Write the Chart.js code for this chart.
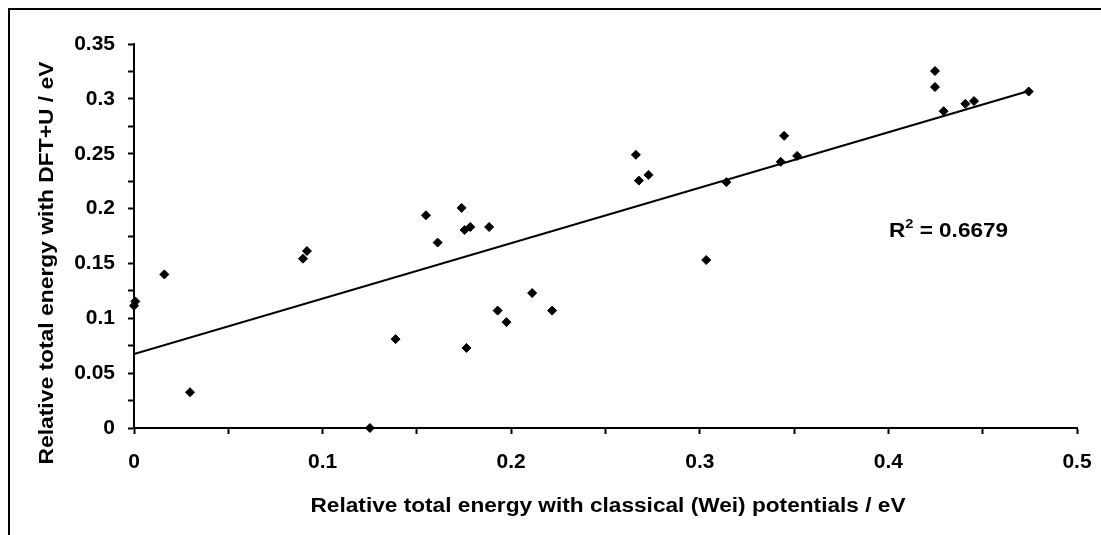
<!DOCTYPE html>
<html>
<head>
<meta charset="utf-8">
<title>DFT+U vs classical energies</title>
<script src="https://cdn.jsdelivr.net/npm/chart.js@4.4.1/dist/chart.umd.min.js"></script>
<style>
  html, body { margin: 0; padding: 0; background: #fff; }
  #wrap { width: 1101px; height: 535px; }
</style>
</head>
<body>
<div id="wrap"><canvas id="energy-scatter" width="1101" height="535"></canvas></div>
<script>
// relative total energy, classical (Wei) potentials / eV
var xWei = [0, 0.0007, 0.0161, 0.0297, 0.0896, 0.0917, 0.1251, 0.1387, 0.1548, 0.161,
            0.1737, 0.1753, 0.1783, 0.1883, 0.1763, 0.1928, 0.1975, 0.2111, 0.2217,
            0.2661, 0.2677, 0.2728, 0.3034, 0.3141, 0.3429, 0.3447, 0.3516,
            0.4247, 0.4247, 0.4293, 0.4408, 0.4454, 0.4744];
// relative total energy, DFT+U / eV
var yDftU = [0.1114, 0.1154, 0.140, 0.0326, 0.1543, 0.1613, 0.0, 0.081, 0.1939, 0.169,
             0.2006, 0.1805, 0.1832, 0.1832, 0.073, 0.107, 0.0965, 0.123, 0.107,
             0.249, 0.2255, 0.2307, 0.1531, 0.2241, 0.2426, 0.2663, 0.248,
             0.3254, 0.3108, 0.2888, 0.2955, 0.298, 0.3067];
var xRange = [0, 0.5];
var yRange = [0, 0.35];
var rSquared = "0.6679";

var xTitle = "Relative total energy with classical (Wei) potentials / eV";
var yTitle = "Relative total energy with DFT+U / eV";

var points = xWei.map(function (x, i) { return { x: x, y: yDftU[i] }; });

// least squares trendline
var n = xWei.length, mx = 0, my = 0;
for (var i = 0; i < n; i++) { mx += xWei[i]; my += yDftU[i]; }
mx /= n; my /= n;
var sxy = 0, sxx = 0;
for (var i = 0; i < n; i++) {
  sxy += (xWei[i] - mx) * (yDftU[i] - my);
  sxx += (xWei[i] - mx) * (xWei[i] - mx);
}
var slope = sxy / sxx;
var icept = my - slope * mx;
var xMax = Math.max.apply(null, xWei);
var trend = [{ x: 0, y: icept }, { x: xMax, y: icept + slope * xMax }];

var FONT = '"Liberation Sans", Arial, sans-serif';

function fitText(ctx, text, size, width) {
  ctx.font = "bold " + size + "px " + FONT;
  return width / ctx.measureText(text).width;
}

var decor = {
  id: "decor",
  beforeDraw: function (chart) {
    var ctx = chart.ctx;
    ctx.save();
    ctx.fillStyle = "#fff";
    ctx.fillRect(0, 0, chart.width, chart.height);
    ctx.strokeStyle = "#000";
    ctx.lineWidth = 2;
    ctx.beginPath();
    ctx.moveTo(9, chart.height);
    ctx.lineTo(9, 9);
    ctx.lineTo(chart.width, 9);
    ctx.stroke();
    ctx.restore();
  },
  afterDraw: function (chart) {
    var ctx = chart.ctx;
    ctx.save();
    ctx.fillStyle = "#000";
    ctx.textBaseline = "alphabetic";
    ctx.textAlign = "center";

    // x title
    var k = fitText(ctx, xTitle, 20, 595);
    ctx.save();
    ctx.translate(608, 512);
    ctx.scale(k, 1);
    ctx.fillText(xTitle, 0, 0);
    ctx.restore();

    // y title
    k = fitText(ctx, yTitle, 21, 403);
    ctx.save();
    ctx.translate(53, 263);
    ctx.rotate(-Math.PI / 2);
    ctx.scale(k, 1);
    ctx.fillText(yTitle, 0, 0);
    ctx.restore();

    // R^2 label
    ctx.textAlign = "left";
    var big = "bold 20px " + FONT, small = "bold 13px " + FONT;
    ctx.font = big;
    var wR = ctx.measureText("R").width;
    var wRest = ctx.measureText(" = " + rSquared).width;
    ctx.font = small;
    var w2 = ctx.measureText("2").width;
    k = 119 / (wR + w2 + wRest);
    ctx.save();
    ctx.translate(889, 237);
    ctx.scale(k, 1);
    ctx.font = big;
    ctx.fillText("R", 0, 0);
    ctx.font = small;
    ctx.fillText("2", wR, -9);
    ctx.font = big;
    ctx.fillText(" = " + rSquared, wR + w2, 0);
    ctx.restore();

    ctx.restore();
  }
};

var tickFont = { family: FONT, weight: "bold", size: 21 };

function axisGrid() {
  return {
    display: true,
    drawOnChartArea: false,
    drawTicks: true,
    tickLength: 6,
    tickWidth: 2,
    tickColor: "#000"
  };
}

var chart = new Chart(document.getElementById("energy-scatter"), {
  type: "scatter",
  data: {
    datasets: [
      {
        data: points,
        pointStyle: "rectRot",
        pointRadius: 4.5,
        backgroundColor: "#000",
        borderColor: "#000",
        borderWidth: 1,
        clip: false
      },
      {
        type: "line",
        data: trend,
        borderColor: "#000",
        borderWidth: 2.2,
        pointRadius: 0,
        fill: false
      }
    ]
  },
  options: {
    responsive: false,
    animation: false,
    layout: { padding: { top: 44, right: 24, left: 0, bottom: 0 } },
    plugins: { legend: { display: false }, tooltip: { enabled: false } },
    scales: {
      x: {
        type: "linear",
        min: xRange[0],
        max: xRange[1],
        afterFit: function (s) { s.height = 107; s.paddingLeft = 0; s.paddingRight = 0; },
        ticks: {
          stepSize: 0.05,
          autoSkip: false,
          maxRotation: 0,
          padding: 16,
          color: "#000",
          font: tickFont,
          callback: function (v) {
            return Math.abs(v * 10 - Math.round(v * 10)) < 1e-6 ? String(+v.toFixed(2)) : "";
          }
        },
        grid: axisGrid(),
        border: { display: true, color: "#000", width: 2 }
      },
      y: {
        type: "linear",
        min: yRange[0],
        max: yRange[1],
        afterFit: function (s) { s.width = 134; s.paddingTop = 0; s.paddingBottom = 0; },
        ticks: {
          stepSize: 0.025,
          autoSkip: false,
          padding: 13,
          color: "#000",
          font: tickFont,
          callback: function (v) {
            return Math.abs(v * 20 - Math.round(v * 20)) < 1e-6 ? String(+v.toFixed(3)) : "";
          }
        },
        grid: axisGrid(),
        border: { display: true, color: "#000", width: 2 }
      }
    }
  },
  plugins: [decor]
});
</script>
</body>
</html>
